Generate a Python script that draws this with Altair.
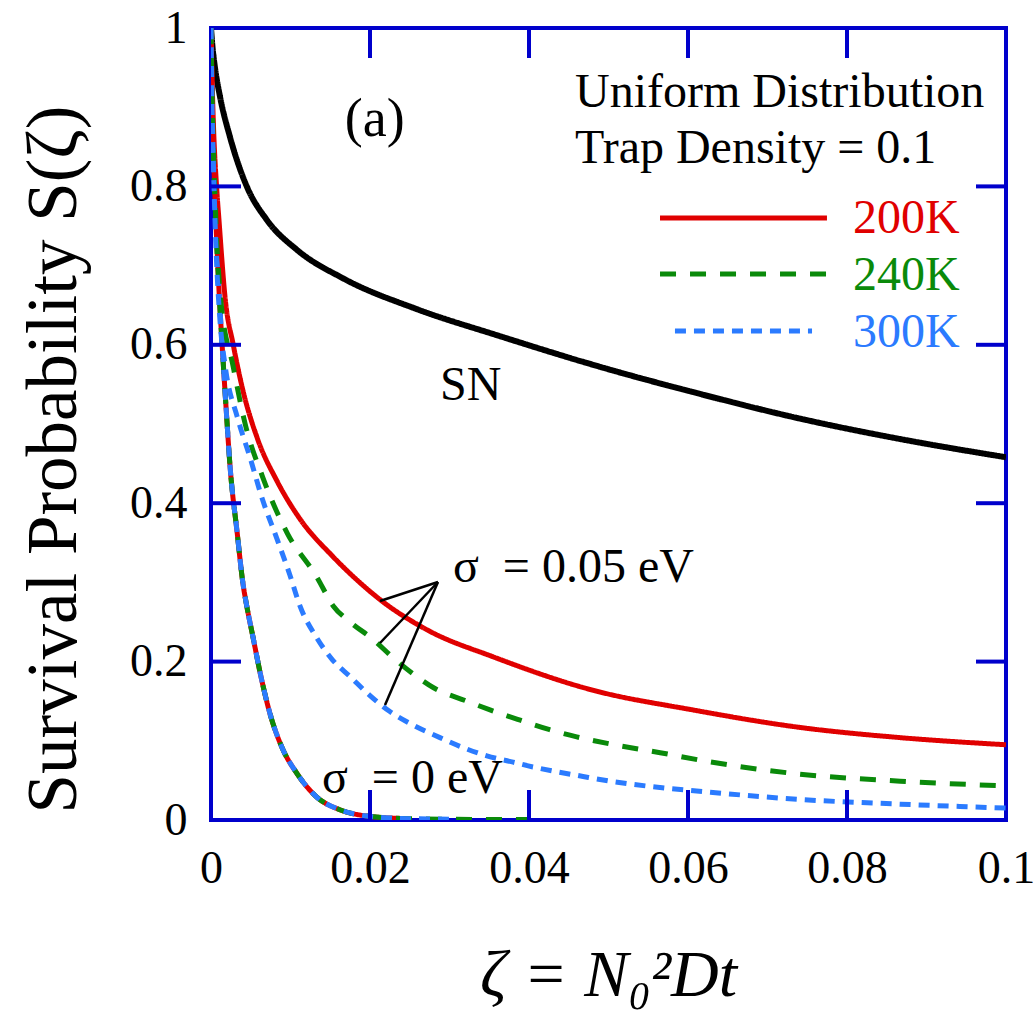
import altair as alt
import pandas as pd

# ---------------- data ----------------
# SN (black)
sn_x = [0.0, 0.0002, 0.0005, 0.0011, 0.0024, 0.0045, 0.007, 0.0108, 0.0166, 0.0259,
        0.036, 0.049, 0.0615, 0.074, 0.0867, 0.1]
sn_y = [1.0, 0.975, 0.95, 0.915, 0.862, 0.80, 0.758, 0.72, 0.684, 0.645,
        0.612, 0.572, 0.538, 0.507, 0.481, 0.458]

# sigma = 0.05 eV, 200K (red)
r05_x = [0.0, 0.0001, 0.0003, 0.0007, 0.001, 0.0018, 0.0028, 0.004, 0.0059, 0.0083,
         0.0112, 0.0153, 0.0187, 0.0213, 0.0272, 0.0355, 0.048, 0.0606, 0.074,
         0.0867, 0.1]
r05_y = [1.0, 0.95, 0.88, 0.80, 0.758, 0.657, 0.60, 0.543, 0.48, 0.428,
         0.38, 0.333, 0.30, 0.278, 0.24, 0.206, 0.164, 0.139, 0.117,
         0.104, 0.095]

# sigma = 0.05 eV, 240K (green)
g05_x = [0.0, 0.0001, 0.0003, 0.0006, 0.0012, 0.0028, 0.0043, 0.0065, 0.0096, 0.0133,
         0.0154, 0.0175, 0.0204, 0.0229, 0.0255, 0.028, 0.0322, 0.0351, 0.0389, 0.0426,
         0.046, 0.0502, 0.0565, 0.0624, 0.074, 0.0867, 0.1]
g05_y = [1.0, 0.93, 0.85, 0.76, 0.66, 0.572, 0.50, 0.433, 0.362, 0.307,
         0.27, 0.25, 0.228, 0.205, 0.184, 0.167, 0.150, 0.139, 0.126, 0.114,
         0.105, 0.096, 0.085, 0.074, 0.058, 0.049, 0.043]

# sigma = 0.05 eV, 300K (blue)
b05_x = [0.0, 0.0001, 0.0003, 0.0006, 0.0011, 0.0018, 0.0033, 0.0049, 0.0065, 0.0083,
         0.0099, 0.0112, 0.0133, 0.0153, 0.0175, 0.02, 0.0225, 0.025, 0.0288, 0.0313,
         0.0347, 0.038, 0.0405, 0.0468, 0.0502, 0.0565, 0.0628, 0.074, 0.0867, 0.1]
b05_y = [1.0, 0.92, 0.83, 0.73, 0.635, 0.572, 0.509, 0.458, 0.404, 0.355,
         0.31, 0.27, 0.23, 0.202, 0.181, 0.157, 0.137, 0.122, 0.104, 0.093,
         0.081, 0.073, 0.067, 0.055, 0.049, 0.041, 0.035, 0.026, 0.020, 0.015]

# sigma = 0 eV (all three temperatures coincide)
s0_x = [0.0, 0.0001, 0.0003, 0.0006, 0.001, 0.0014, 0.0019, 0.0024, 0.0033, 0.004,
        0.0045, 0.0053, 0.0062, 0.0074, 0.009, 0.0108, 0.0133, 0.0162, 0.0196, 0.0238,
        0.03, 0.04]
s0_y = [1.0, 0.93, 0.85, 0.76, 0.67, 0.60, 0.52, 0.446, 0.362, 0.30,
        0.27, 0.23, 0.185, 0.135, 0.09, 0.059, 0.029, 0.013, 0.005, 0.002,
        0.001, 0.0005]
s0_end = {"200K": 0.0238, "240K": 0.04, "300K": 0.03}

x_ticks = [0, 0.02, 0.04, 0.06, 0.08, 0.1]
y_ticks = [0, 0.2, 0.4, 0.6, 0.8, 1.0]
temps = ["200K", "240K", "300K"]
header_lines = ["Uniform Distribution", "Trap Density = 0.1"]

# ---------------- styling ----------------
FONT = "Times New Roman, Liberation Serif, serif"
FRAME = "#0000CC"
COL = {"SN": "#000000", "200K": "#E00000", "240K": "#0A8A0A", "300K": "#2B7BFF"}
DASH = {"SN": [1, 0], "200K": [1, 0], "240K": [16, 14], "300K": [11, 8]}


def frame(xs, ys):
    return pd.DataFrame({"z": xs, "s": ys})


xs = alt.Scale(domain=[0, 0.1], nice=False, zero=False)
ys = alt.Scale(domain=[0, 1], nice=False, zero=False)

X = alt.X("z:Q", scale=xs, axis=alt.Axis(
    values=x_ticks, format="~g", title="ζ\u00a0=\u00a0N₀²Dt", labelFlush=False,
    titleFont=FONT, titleFontSize=66, titleFontStyle="italic", titleFontWeight="normal",
    titleBaseline="alphabetic", titleY=175, titleX=397, titleAlign="center",
    labelPadding=26))
Y = alt.Y("s:Q", scale=ys, axis=alt.Axis(
    values=y_ticks, format="~g", title="Survival Probability S(ζ)", labelFlush=False,
    titleFont=FONT, titleFontSize=71, titleFontWeight="normal",
    titleAngle=270, titleBaseline="alphabetic", titleAlign="center",
    titleX=-136, titleY=431, labelPadding=24))


def curve(df, key, width=5):
    return alt.Chart(df).mark_line(
        color=COL[key], strokeWidth=width, strokeDash=DASH[key], strokeCap="butt",
        clip=True, interpolate="monotone"
    ).encode(x=X, y=Y, order=alt.Order("z:Q"))


layers = []
layers.append(curve(frame(sn_x, sn_y), "SN", 6))
# sigma = 0 curves
for t in temps:
    xx = [v for v in s0_x if v <= s0_end[t]]
    yy = s0_y[:len(xx)]
    layers.append(curve(frame(xx, yy), t))
layers.append(curve(frame(r05_x, r05_y), "200K"))
layers.append(curve(frame(g05_x, g05_y), "240K"))
layers.append(curve(frame(b05_x, b05_y), "300K"))

# inward ticks on all four sides
tx = [v for v in x_ticks if 0 < v < 0.1]
ty = [v for v in y_ticks if 0 < v < 1]
TLX = 30 / 795 * 0.1
TLY = 30 / 792
tick_df = pd.DataFrame(
    [{"z": v, "z2": v, "s": 0, "s2": TLY} for v in tx] +
    [{"z": v, "z2": v, "s": 1, "s2": 1 - TLY} for v in tx] +
    [{"z": 0, "z2": TLX, "s": v, "s2": v} for v in ty] +
    [{"z": 0.1, "z2": 0.1 - TLX, "s": v, "s2": v} for v in ty])
layers.append(alt.Chart(tick_df).mark_rule(color=FRAME, strokeWidth=4).encode(
    x=X, x2="z2:Q", y=Y, y2="s2:Q"))

# annotation arrows for sigma = 0.05 eV
apex = (0.02855, 0.3005)
ends = [(0.02126, 0.2765), (0.02126, 0.2235), (0.02189, 0.1452)]
arr_df = pd.DataFrame([{"z": apex[0], "s": apex[1], "z2": e[0], "s2": e[1]} for e in ends])
layers.append(alt.Chart(arr_df).mark_rule(color="black", strokeWidth=2.5).encode(
    x=X, x2="z2:Q", y=Y, y2="s2:Q"))

# legend lines
leg_df = pd.DataFrame({
    "t": temps,
    "z": [0.05648, 0.05648, 0.05836],
    "z2": [0.07748, 0.07748, 0.0756],
    "s": [0.7601, 0.6894, 0.6174]})
for i, t in enumerate(temps):
    layers.append(alt.Chart(leg_df.iloc[[i]]).mark_rule(
        color=COL[t], strokeWidth=5, strokeDash=DASH[t], strokeCap="butt").encode(
        x=X, x2="z2:Q", y=Y))

leg_txt = pd.DataFrame({"t": temps, "z": [0.08075] * 3, "s": [0.7412, 0.6692, 0.5972]})
layers.append(alt.Chart(leg_txt).mark_text(
    font=FONT, fontSize=48, align="left", baseline="alphabetic").encode(
    x=X, y=Y, text="t:N",
    color=alt.Color("t:N", scale=alt.Scale(domain=temps, range=[COL[t] for t in temps]),
                    legend=None)))

# free text labels
txt_df = pd.DataFrame({
    "label": header_lines + ["SN", "σ\u00a0 = 0.05 eV", "σ\u00a0 = 0 eV"],
    "z": [0.04579, 0.04579, 0.0288, 0.03044, 0.01396],
    "s": [0.9003, 0.8295, 0.530, 0.3005, 0.034]})
layers.append(alt.Chart(txt_df).mark_text(
    font=FONT, fontSize=48, align="left", baseline="alphabetic", color="black").encode(
    x=X, y=Y, text="label:N"))

panel_df = pd.DataFrame({"label": ["(a)"], "z": [0.0206], "s": [0.864]})
layers.append(alt.Chart(panel_df).mark_text(
    font=FONT, fontSize=54, align="center", baseline="alphabetic", color="black").encode(
    x=X, y=Y, text="label:N"))

chart = alt.layer(*layers).properties(
    width=795, height=792,
    autosize=alt.AutoSizeParams(type="none"),
    padding={"left": 211, "top": 28, "right": 30, "bottom": 196},
    background="white",
).configure_view(
    stroke=FRAME, strokeWidth=4
).configure_axis(
    domain=False, ticks=False, tickSize=0, grid=False,
    labelFont=FONT, labelFontSize=46, labelColor="black", titleColor="black",
)

chart.save("out.html", embed_options={"renderer": "svg", "actions": False})
